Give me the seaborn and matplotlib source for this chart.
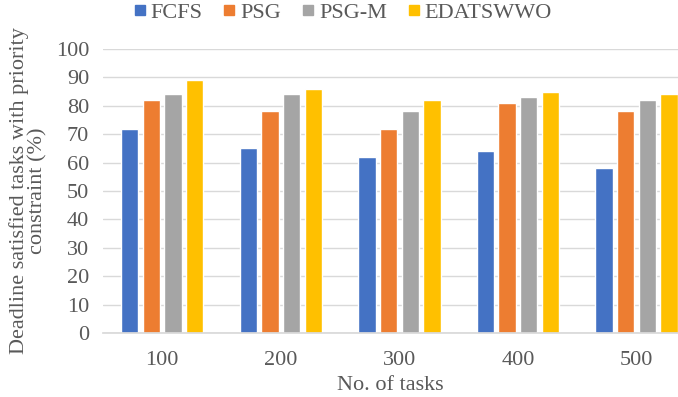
import pandas as pd
import seaborn as sns
import matplotlib.pyplot as plt

# values
tasks = ['100', '200', '300', '400', '500']
methods = ['FCFS', 'PSG', 'PSG-M', 'EDATSWWO']
fcfs = [72, 65, 62, 64, 58]
psg = [82, 78, 72, 81, 78]
psg_m = [84, 84, 78, 83, 82]
edatswwo = [89, 86, 82, 85, 84]
colors = ['#4472C4', '#ED7D31', '#A5A5A5', '#FFC000']

df = pd.DataFrame({'tasks': tasks * 4,
                   'method': [m for m in methods for _ in tasks],
                   'value': fcfs + psg + psg_m + edatswwo})

sns.set_theme(style='white')
plt.rcParams['font.family'] = ['Liberation Serif', 'DejaVu Serif']
txt = '#595959'
fs = 16

fig = plt.figure(figsize=(6.78, 3.97), dpi=100)
ax = fig.add_axes([103 / 678, 1 - 333 / 397, (678 - 103) / 678, (333 - 49) / 397])

sns.barplot(data=df, x='tasks', y='value', hue='method',
            palette=colors, width=0.73, gap=0.2, saturation=1,
            ax=ax, legend=False)

ax.set_ylim(0, 100)
ax.set_yticks(range(0, 101, 10))
ax.set_xlim(-0.5, 4.35)
ax.yaxis.grid(True, color='#d9d9d9', lw=1)
ax.set_axisbelow(True)
for s in ['top', 'right', 'left']:
    ax.spines[s].set_visible(False)
ax.spines['bottom'].set_color('#d9d9d9')
ax.tick_params(axis='both', length=0, labelsize=fs, colors=txt)
ax.tick_params(axis='x', pad=13)
ax.tick_params(axis='y', pad=10)

ax.set_xlabel('No. of tasks', fontsize=fs, color=txt, labelpad=4)
ax.set_ylabel('Deadline satisfied tasks with priority\nconstraint (%)',
              fontsize=fs, color=txt, labelpad=6, linespacing=0.95)

handles = [plt.Line2D([], [], marker='s', ls='', color=c, markersize=7) for c in colors]
fig.legend(handles, methods, loc='upper center', bbox_to_anchor=(0.505, 1.045),
           ncol=4, frameon=False, fontsize=fs, labelcolor=txt,
           handletextpad=0.2, columnspacing=0.9, handlelength=0.6)

fig.savefig('out.png', dpi=100)
